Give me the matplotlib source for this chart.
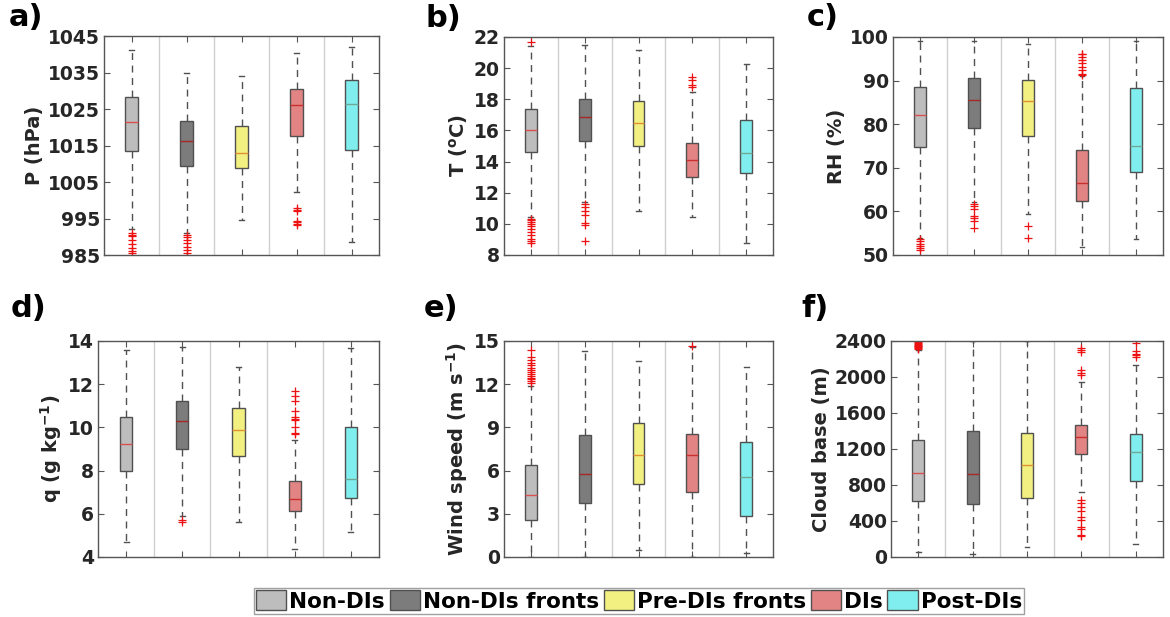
import matplotlib
matplotlib.use("Agg")
import matplotlib.pyplot as plt
from matplotlib.patches import Patch

plt.rcParams['font.family'] = ['DejaVu Sans']
plt.rcParams['font.weight'] = 'bold'
plt.rcParams['mathtext.default'] = 'bf'

# Group names and fill colours
groups = ['Non-DIs', 'Non-DIs fronts', 'Pre-DIs fronts', 'DIs', 'Post-DIs']
fill_colors = ['#bdbdbd', '#7c7c7c', '#f2f080', '#e38484', '#80eeee']
median_colors = ['#d85050', '#a82828', '#e09030', '#c83030', '#70a898']

# ---- Panel a: surface pressure (hPa) ----
p_lo = [992.0, 991.0, 994.5, 1002.2, 988.5]
p_q1 = [1013.5, 1009.3, 1008.7, 1017.7, 1013.9]
p_med = [1021.4, 1016.1, 1013.0, 1026.0, 1026.3]
p_q3 = [1028.2, 1021.7, 1020.3, 1030.5, 1033.0]
p_hi = [1041.2, 1035.0, 1034.0, 1040.3, 1042.0]
p_out = [[991.0, 990.6, 990.3, 989.0, 988.0, 987.0, 986.0, 985.5],
         [990.4, 990.0, 989.2, 988.3, 987.3, 986.3, 985.6],
         [],
         [997.8, 997.4, 997.1, 994.4, 994.0, 993.5, 993.1],
         []]

# ---- Panel b: temperature (degC) ----
t_lo = [10.45, 11.4, 10.85, 10.42, 8.75]
t_q1 = [14.6, 15.3, 14.97, 13.0, 13.25]
t_med = [16.02, 16.85, 16.5, 14.13, 14.58]
t_q3 = [17.37, 18.0, 17.9, 15.22, 16.68]
t_hi = [21.4, 21.5, 21.15, 18.5, 20.26]
t_out = [[21.65, 10.3, 10.25, 10.15, 10.0, 9.85, 9.7, 9.5, 9.3, 9.0, 8.9, 8.8],
         [11.3, 11.1, 10.85, 10.6, 10.05, 9.95, 8.9],
         [],
         [19.45, 19.25, 18.9, 18.8],
         []]

# ---- Panel c: relative humidity (%) ----
rh_lo = [54.0, 62.2, 59.4, 51.8, 53.6]
rh_q1 = [74.7, 79.2, 77.4, 62.4, 69.1]
rh_med = [82.1, 85.6, 85.4, 66.6, 75.1]
rh_q3 = [88.5, 90.7, 90.1, 74.1, 88.4]
rh_hi = [99.1, 99.0, 98.3, 91.0, 99.1]
rh_out = [[53.6, 53.1, 52.6, 52.1, 51.6, 51.2],
          [61.7, 61.2, 60.5, 58.9, 58.4, 57.9, 56.3],
          [56.6, 54.0],
          [96.2, 96.0, 95.5, 94.8, 94.0, 93.2, 92.5, 91.6, 91.3],
          []]

# ---- Panel d: specific humidity (g/kg) ----
q_lo = [4.69, 5.9, 5.62, 4.38, 5.14]
q_q1 = [7.97, 8.98, 8.66, 6.15, 6.71]
q_med = [9.25, 10.29, 9.89, 6.68, 7.6]
q_q3 = [10.46, 11.22, 10.92, 7.54, 10.0]
q_hi = [13.57, 13.72, 12.8, 9.4, 13.69]
q_out = [[],
         [5.69, 5.6],
         [],
         [11.69, 11.45, 11.23, 10.77, 10.49, 10.4, 10.35, 10.03, 9.75, 9.7],
         []]

# ---- Panel e: wind speed (m/s) ----
ws_lo = [0.0, 0.0, 0.48, 0.0, 0.28]
ws_q1 = [2.58, 3.74, 5.08, 4.5, 2.88]
ws_med = [4.34, 5.77, 7.06, 7.06, 5.56]
ws_q3 = [6.37, 8.45, 9.32, 8.52, 8.0]
ws_hi = [11.9, 14.28, 13.64, 14.55, 13.22]
ws_out = [[14.35, 13.9, 13.7, 13.5, 13.3, 13.15, 13.0, 12.85, 12.7, 12.55,
           12.45, 12.35, 12.25, 12.05],
          [],
          [],
          [14.68],
          []]

# ---- Panel f: cloud base height (m) ----
cb_lo = [55, 30, 107, 727, 144]
cb_q1 = [627, 594, 661, 1141, 849]
cb_med = [930, 919, 1019, 1333, 1163]
cb_q3 = [1300, 1403, 1374, 1466, 1370]
cb_hi = [2300, 2400, 2400, 1946, 2130]
cb_out = [[2400, 2390, 2380, 2370, 2360, 2350, 2340, 2330, 2320, 2310],
          [],
          [],
          [2326, 2296, 2274, 2075, 2040, 2019, 635, 598, 561, 506, 450,
           413, 332, 310, 247, 229],
          [2378, 2289, 2260, 2240, 2223]]

panels = [
    ('a)', 'P (hPa)', (985, 1045), list(range(985, 1046, 10)),
     p_lo, p_q1, p_med, p_q3, p_hi, p_out),
    ('b)', r'T ($^{o}$C)', (8, 22), list(range(8, 23, 2)),
     t_lo, t_q1, t_med, t_q3, t_hi, t_out),
    ('c)', 'RH (%)', (50, 100), list(range(50, 101, 10)),
     rh_lo, rh_q1, rh_med, rh_q3, rh_hi, rh_out),
    ('d)', r'q (g kg$^{-1}$)', (4, 14), list(range(4, 15, 2)),
     q_lo, q_q1, q_med, q_q3, q_hi, q_out),
    ('e)', r'Wind speed (m s$^{-1}$)', (0, 15), list(range(0, 16, 3)),
     ws_lo, ws_q1, ws_med, ws_q3, ws_hi, ws_out),
    ('f)', 'Cloud base (m)', (0, 2400), list(range(0, 2401, 400)),
     cb_lo, cb_q1, cb_med, cb_q3, cb_hi, cb_out),
]

W, H = 1170, 617
# axes boxes in pixels: left, right, top, bottom
ax_px = [(104, 379, 36, 255), (504, 773, 37, 255), (893, 1163, 37, 255),
         (98, 379, 341, 557), (504, 773, 341, 557), (891, 1163, 341, 557)]
label_px = [(9, 3), (426, 4), (807, 3), (11, 294), (424, 294), (801, 294)]

fig = plt.figure(figsize=(W / 100, H / 100), dpi=100)
text_col = '#262626'
edge_col = '#555555'

for (tag, ylab, ylim, yticks, lo, q1, med, q3, hi, out), (l, r, t, b), (lx, ly) in zip(
        panels, ax_px, label_px):
    ax = fig.add_axes([l / W, 1 - b / H, (r - l) / W, (b - t) / H])
    stats = [dict(whislo=lo[i], q1=q1[i], med=med[i], q3=q3[i], whishi=hi[i],
                  fliers=out[i]) for i in range(len(groups))]
    bp = ax.bxp(stats, positions=range(1, 6), widths=0.22, capwidths=0.09,
                patch_artist=True, showfliers=True,
                boxprops=dict(edgecolor='#505050', linewidth=1.0),
                whiskerprops=dict(color='#505050', linestyle=(0, (5, 4)), linewidth=1.0),
                capprops=dict(color='#505050', linewidth=1.0),
                medianprops=dict(linewidth=1.0),
                flierprops=dict(marker='+', markeredgecolor='#ee1111',
                                markersize=6, markeredgewidth=0.9, linestyle='none'))
    for patch, fc in zip(bp['boxes'], fill_colors):
        patch.set_facecolor(fc)
    for m, mc in zip(bp['medians'], median_colors):
        m.set_color(mc)
    for xs in (1.5, 2.5, 3.5, 4.5):
        ax.axvline(xs, color='#cfcfcf', linewidth=1.0, zorder=0)
    ax.set_xlim(0.5, 5.5)
    ax.set_ylim(*ylim)
    ax.set_yticks(yticks)
    ax.set_xticks(range(1, 6))
    ax.set_xticklabels([])
    ax.tick_params(axis='both', direction='in', length=4, width=0.8,
                   colors=edge_col, labelcolor=text_col, labelsize=13.5,
                   top=True, right=True, pad=3)
    for lab in ax.get_yticklabels():
        lab.set_fontweight('bold')
    for sp in ax.spines.values():
        sp.set_color(edge_col)
        sp.set_linewidth(1.0)
    ax.set_ylabel(ylab, fontsize=14, fontweight='bold', color=text_col, labelpad=3)
    fig.text(lx / W, 1 - ly / H, tag, fontsize=22, fontweight='bold',
             color='black', ha='left', va='top')

handles = [Patch(facecolor=fc, edgecolor='#505050', linewidth=1.0) for fc in fill_colors]
leg = fig.legend(handles, groups, loc='center', bbox_to_anchor=(639 / W, 1 - 601 / H),
                 ncol=5, frameon=True, fancybox=False, edgecolor='#888888',
                 prop=dict(weight='bold', size=15.5), handlelength=1.4, handleheight=1.0,
                 handletextpad=0.14, columnspacing=0.22, borderpad=0.12,
                 borderaxespad=0.0)
leg.get_frame().set_linewidth(1.0)
for txt in leg.get_texts():
    txt.set_color('black')

fig.savefig('out.png', dpi=100)
